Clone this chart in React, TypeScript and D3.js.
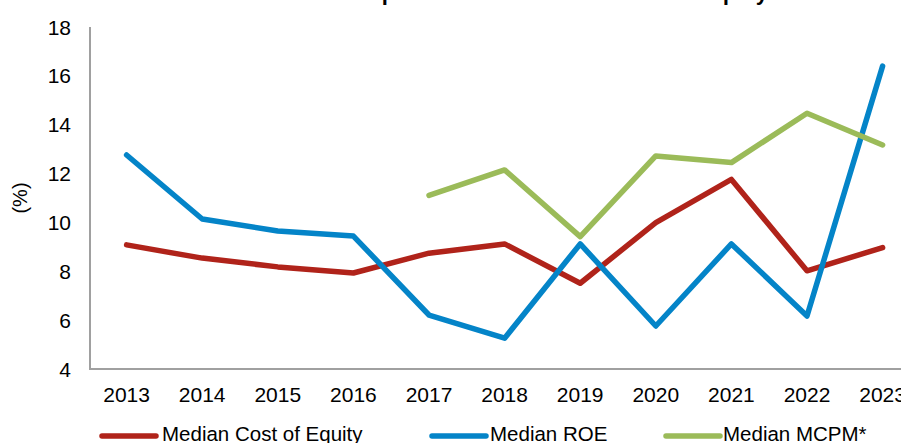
import React from "react";
import * as d3 from "d3";

const years = ["2013", "2014", "2015", "2016", "2017", "2018", "2019", "2020", "2021", "2022", "2023"];
const costOfEquity = [9.08, 8.54, 8.18, 7.93, 8.74, 9.12, 7.51, 9.99, 11.76, 8.02, 8.97];
const medianROE = [12.76, 10.14, 9.65, 9.44, 6.21, 5.26, 9.12, 5.76, 9.12, 6.17, 16.4];
const medianMCPM: (number | null)[] = [null, null, null, null, 11.11, 12.15, 9.42, 12.72, 12.45, 14.47, 13.17];
const yTicks = [4, 6, 8, 10, 12, 14, 16, 18];
const seriesNames = ["Median Cost of Equity", "Median ROE", "Median MCPM*"];
const seriesColors = ["#B0231A", "#0484C8", "#9BBB59"];
const titleText = "Median ROE Compared with the Median Cost of Equity";

export default function App() {
  const W = 901;
  const H = 443;
  const step = 75.6;
  const x0 = 88.8;
  const x = d3.scalePoint<string>().domain(years).range([x0, x0 + step * years.length]).padding(0.5);
  const y = d3.scaleLinear().domain([4, 18]).range([369, 27]);

  const seriesData = [costOfEquity, medianROE, medianMCPM];
  const line = d3
    .line<number | null>()
    .defined((d) => d !== null)
    .x((_, i) => x(years[i]) as number)
    .y((d) => y(d as number));

  const font = "'Liberation Sans', Arial, sans-serif";
  const legendItems = [
    { lx: 102, tx: 162 },
    { lx: 432, tx: 490 },
    { lx: 666, tx: 723 },
  ];

  return (
    <svg width={W} height={H} style={{ position: "absolute", left: 0, top: 0, background: "#fff" }}>
      <text x={768} y={-0.5} textAnchor="end" fontFamily={font} fontWeight="bold" fontSize={22} fill="#000">
        {titleText}
      </text>
      {/* axes */}
      <line x1={90} x2={90} y1={y(18)} y2={y(4) + 1} stroke="#A0A0A0" strokeWidth={2} />
      <line x1={89} x2={W} y1={y(4)} y2={y(4)} stroke="#A0A0A0" strokeWidth={2} />
      {yTicks.map((t) => (
        <text key={t} x={71} y={y(t)} textAnchor="end" dominantBaseline="central" fontFamily={font} fontSize={21} fill="#000">
          {t}
        </text>
      ))}
      {years.map((yr) => (
        <text key={yr} x={x(yr)} y={401.5} textAnchor="middle" fontFamily={font} fontSize={21} fill="#000">
          {yr}
        </text>
      ))}
      <text
        transform={`translate(20,${(y(18) + y(4)) / 2}) rotate(-90)`}
        textAnchor="middle"
        dominantBaseline="central"
        fontFamily={font}
        fontSize={20}
        fill="#000"
      >
        (%)
      </text>
      {seriesData.map((s, i) => (
        <path
          key={i}
          d={line(s as (number | null)[]) || ""}
          fill="none"
          stroke={seriesColors[i]}
          strokeWidth={5.5}
          strokeLinecap="round"
          strokeLinejoin="round"
        />
      ))}
      {seriesNames.map((n, i) => (
        <g key={n}>
          <line
            x1={legendItems[i].lx}
            x2={legendItems[i].lx + 54}
            y1={436}
            y2={436}
            stroke={seriesColors[i]}
            strokeWidth={5.5}
            strokeLinecap="round"
          />
          <text x={legendItems[i].tx} y={441} fontFamily={font} fontSize={20.5} fill="#000">
            {n}
          </text>
        </g>
      ))}
    </svg>
  );
}
